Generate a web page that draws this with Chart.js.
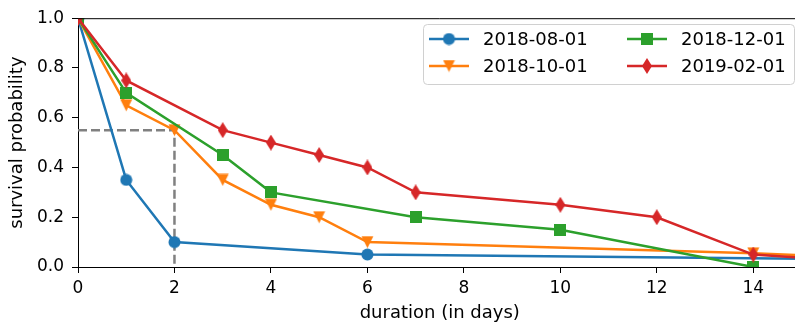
<!DOCTYPE html>
<html>
<head>
<meta charset="utf-8">
<script src="https://cdn.jsdelivr.net/npm/chart.js@4"></script>
<style>
  html, body { margin: 0; padding: 0; background: #fff; overflow: hidden; }
  #wrap { width: 810px; height: 324px; }
</style>
</head>
<body>
<div id="wrap"><canvas id="chart" width="810" height="324"></canvas></div>
<script>
// tick labels
const xTicks = [0, 2, 4, 6, 8, 10, 12, 14];
const yTicks = [0, 0.2, 0.4, 0.6, 0.8, 1.0];

// series (duration in days, survival probability)
const labels = ['2018-08-01', '2018-10-01', '2018-12-01', '2019-02-01'];
const augDays = [0, 1, 2, 6, 15];
const augVals = [1.0, 0.35, 0.10, 0.05, 0.033];
const octDays = [0, 1, 2, 3, 4, 5, 6, 14, 15];
const octVals = [1.0, 0.65, 0.55, 0.35, 0.25, 0.20, 0.10, 0.055, 0.047];
const decDays = [0, 1, 3, 4, 7, 10, 14];
const decVals = [1.0, 0.70, 0.45, 0.30, 0.20, 0.15, 0.0];
const febDays = [0, 1, 3, 4, 5, 6, 7, 10, 12, 14, 15];
const febVals = [1.0, 0.75, 0.55, 0.50, 0.45, 0.40, 0.30, 0.25, 0.20, 0.05, 0.037];

// median guide line
const guideDays = [0, 2, 2];
const guideVals = [0.55, 0.55, 0];

const colors = ['#1f77b4', '#ff7f0e', '#2ca02c', '#d62728'];

// marker images (circle, triangle down, square, thin diamond)
function makeMarker(shape, color) {
    const c = document.createElement('canvas');
    let w = 13, h = 13;
    if (shape === 'diamond') { w = 10; h = 16; }
    if (shape === 'square') { w = 12; h = 12; }
    c.width = w; c.height = h;
    const g = c.getContext('2d');
    g.fillStyle = color;
    g.beginPath();
    if (shape === 'circle') {
        g.arc(w / 2, h / 2, 6, 0, Math.PI * 2);
    } else if (shape === 'triangle') {
        g.moveTo(0.5, 0.5); g.lineTo(w - 0.5, 0.5); g.lineTo(w / 2, h - 0.5);
    } else if (shape === 'square') {
        g.rect(0, 0, w, h);
    } else {
        g.moveTo(w / 2, 0); g.lineTo(w, h / 2); g.lineTo(w / 2, h); g.lineTo(0, h / 2);
    }
    g.closePath();
    g.fill();
    return c;
}
const shapes = ['circle', 'triangle', 'square', 'diamond'];
const markers = shapes.map((s, i) => makeMarker(s, colors[i]));

function toPoints(xs, ys) {
    return xs.map((x, i) => ({ x: x, y: ys[i] }));
}

const series = [[augDays, augVals], [octDays, octVals], [decDays, decVals], [febDays, febVals]];
const datasets = series.map((s, i) => ({
    label: labels[i],
    data: toPoints(s[0], s[1]),
    borderColor: colors[i],
    backgroundColor: colors[i],
    borderWidth: 2.5,
    pointStyle: markers[i],
    pointRadius: 6,
    pointHoverRadius: 6,
    order: 4 - i
}));
datasets.push({
    label: 'guide',
    data: toPoints(guideDays, guideVals),
    borderColor: '#808080',
    borderWidth: 2.5,
    borderDash: [9, 4],
    pointRadius: 0,
    order: 10
});

// draws the top spine and the matplotlib style legend
const extras = {
    id: 'extras',
    afterDraw(chart) {
        const ctx = chart.ctx;
        const a = chart.chartArea;
        ctx.save();
        ctx.strokeStyle = '#000';
        ctx.lineWidth = 1;
        ctx.beginPath();
        ctx.moveTo(a.left, a.top + 0.5);
        ctx.lineTo(a.right, a.top + 0.5);
        ctx.stroke();

        // legend box
        const bx = 423.5, by = 24.5, bw = 371, bh = 60, r = 4;
        ctx.beginPath();
        ctx.moveTo(bx + r, by);
        ctx.arcTo(bx + bw, by, bx + bw, by + bh, r);
        ctx.arcTo(bx + bw, by + bh, bx, by + bh, r);
        ctx.arcTo(bx, by + bh, bx, by, r);
        ctx.arcTo(bx, by, bx + bw, by, r);
        ctx.closePath();
        ctx.fillStyle = 'rgba(255,255,255,0.8)';
        ctx.fill();
        ctx.strokeStyle = '#d0d0d0';
        ctx.stroke();

        ctx.font = '18px "DejaVu Sans"';
        ctx.textBaseline = 'middle';
        ctx.fillStyle = '#000';
        const cols = [429, 627];
        const rows = [39, 66];
        // matplotlib fills the legend column by column
        for (let i = 0; i < 4; i++) {
            const x0 = cols[Math.floor(i / 2)];
            const y0 = rows[i % 2];
            ctx.strokeStyle = colors[i];
            ctx.lineWidth = 2.5;
            ctx.beginPath();
            ctx.moveTo(x0, y0);
            ctx.lineTo(x0 + 40, y0);
            ctx.stroke();
            const m = markers[i];
            ctx.drawImage(m, x0 + 20 - m.width / 2, y0 - m.height / 2);
            ctx.fillStyle = '#000';
            ctx.fillText(labels[i], x0 + 54, y0 + 1);
        }
        ctx.restore();
    }
};

new Chart(document.getElementById('chart').getContext('2d'), {
    type: 'line',
    data: { datasets: datasets },
    options: {
        responsive: false,
        animation: false,
        events: [],
        layout: { padding: { top: 15, right: 4, left: 0, bottom: 0 } },
        plugins: {
            legend: { display: false },
            tooltip: { enabled: false }
        },
        scales: {
            x: {
                type: 'linear',
                min: 0,
                max: 15,
                afterBuildTicks: (axis) => { axis.ticks = xTicks.map(v => ({ value: v })); },
                afterFit: (scale) => { scale.height = 57; },
                grid: { drawOnChartArea: false, tickLength: 6, color: '#000' },
                border: { display: true, color: '#000', width: 1 },
                ticks: {
                    color: '#000',
                    padding: 5,
                    maxRotation: 0,
                    font: { family: 'DejaVu Sans', size: 17 },
                    callback: (v) => String(v)
                },
                title: {
                    display: true,
                    text: 'duration (in days)',
                    color: '#000',
                    padding: { top: 0, bottom: 0 },
                    font: { family: 'DejaVu Sans', size: 18 }
                }
            },
            y: {
                min: 0,
                max: 1,
                afterBuildTicks: (axis) => { axis.ticks = yTicks.map(v => ({ value: v })); },
                afterFit: (scale) => { scale.width = 78; },
                grid: { drawOnChartArea: false, tickLength: 6, color: '#000' },
                border: { display: true, color: '#000', width: 1 },
                ticks: {
                    color: '#000',
                    padding: 8,
                    font: { family: 'DejaVu Sans', size: 17 },
                    callback: (v) => v.toFixed(1)
                },
                title: {
                    display: true,
                    text: 'survival probability',
                    color: '#000',
                    padding: { top: 7, bottom: 0 },
                    font: { family: 'DejaVu Sans', size: 18 }
                }
            }
        }
    },
    plugins: [extras]
});
</script>
</body>
</html>
